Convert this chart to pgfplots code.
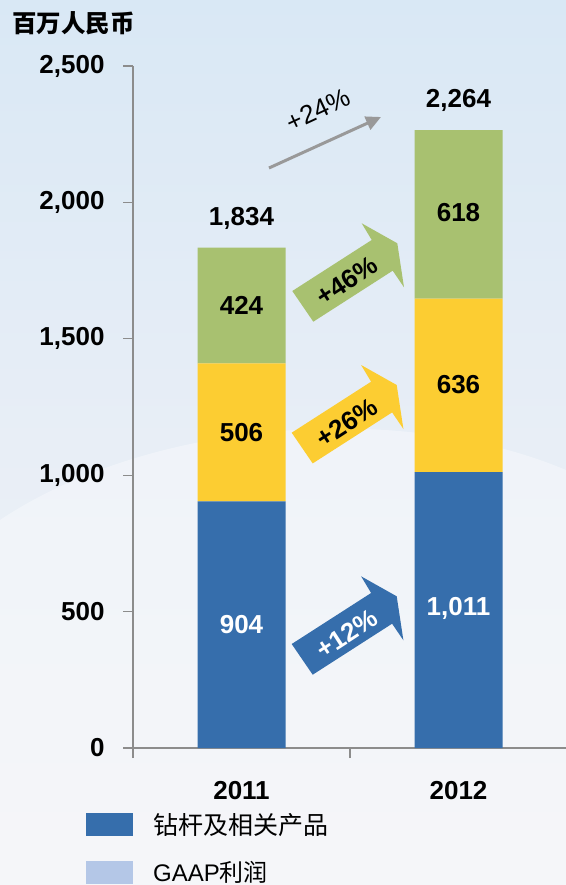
\documentclass[border=0pt]{standalone}
\usepackage{fontspec}
\setmainfont{Liberation Sans}
\newfontfamily\cjk{Noto Sans CJK SC}
\usepackage{pgfplots}
\pgfplotsset{compat=1.18}
\usetikzlibrary{arrows.meta}
\definecolor{cblue}{HTML}{366EAC}
\definecolor{cyellow}{HTML}{FCCD32}
\definecolor{cgreen}{HTML}{A8C170}
\definecolor{clight}{HTML}{B4C7E7}
\definecolor{caxis}{HTML}{8C8C8C}
\definecolor{carrow}{HTML}{999999}
\definecolor{bgtop}{HTML}{D9E8F5}
\definecolor{bgmid}{HTML}{E8EEF6}
\definecolor{bgbot}{HTML}{F1F2F7}
\newcommand\bigf{\fontsize{26bp}{30bp}\selectfont}
\begin{document}
\begin{tikzpicture}[x=1bp,y=-1bp]
\useasboundingbox (0,0) rectangle (566,885);
\shade[top color=bgtop, bottom color=bgbot, middle color=bgmid] (0,0) rectangle (566,885);
\fill[white, opacity=0.35] (0,520) .. controls (150,420) and (400,400) .. (566,470) -- (566,885) -- (0,885) -- cycle;
\begin{axis}[at={(133bp,-748bp)}, anchor=south west, scale only axis,
  width=434bp, height=682bp,
  xmin=-0.5, xmax=1.5, ymin=0, ymax=2500,
  ybar stacked, bar width=88bp,
  axis lines*=left, axis line style={caxis, line width=1.1bp, -},
  tick align=outside, major tick length=10bp,
  tick style={caxis, line width=1.1bp},
  ytick={0,500,...,2500},
  /pgf/number format/assume math mode=true,
  /pgf/number format/1000 sep={,},
  yticklabel style={font=\bigf\bfseries, xshift=-15bp},
  xtick={-0.5,0.5}, xticklabels={},
  extra x ticks={0,1}, extra x tick labels={2011,2012},
  extra x tick style={major tick length=0pt, xticklabel style={font=\bigf\bfseries, yshift=-30bp}},
  clip=false,
]
\addplot[fill=cblue, draw=none] coordinates {(0,904) (1,1011)};
\addplot[fill=cyellow, draw=none] coordinates {(0,506) (1,636)};
\addplot[fill=cgreen, draw=none] coordinates {(0,424) (1,618)};
\coordinate (a1) at (axis cs:0,452);
\coordinate (a2) at (axis cs:0,1157);
\coordinate (a3) at (axis cs:0,1622);
\coordinate (a4) at (axis cs:0,1943);
\coordinate (b1) at (axis cs:1,513);
\coordinate (b2) at (axis cs:1,1331);
\coordinate (b3) at (axis cs:1,1962);
\coordinate (b4) at (axis cs:1,2372);
\end{axis}
\node[font=\bigf\bfseries, text=white] at (a1) {904};
\node[font=\bigf\bfseries] at (a2) {506};
\node[font=\bigf\bfseries] at (a3) {424};
\node[font=\bigf\bfseries] at (a4) {1,834};
\node[font=\bigf\bfseries, text=white] at (b1) {1,011};
\node[font=\bigf\bfseries] at (b2) {636};
\node[font=\bigf\bfseries] at (b3) {618};
\node[font=\bigf\bfseries] at (b4) {2,264};
% block arrows
\begin{scope}[shift={(292.3,291)}]
\fill[cgreen] (21,30.7) -- (0,0) -- (79.4,-51) -- (69.4,-67.7) -- (105,-47.7) -- (111.7,-3.7) -- (100.4,-20.3) -- cycle;
\node[rotate=33, font=\bigf\bfseries] at (55,-10) {+46\%};
\end{scope}
\begin{scope}[shift={(291.7,432.7)}]
\fill[cyellow] (21,30.7) -- (0,0) -- (79.4,-51) -- (69.4,-67.7) -- (105,-47.7) -- (111.7,-3.7) -- (100.4,-20.3) -- cycle;
\node[rotate=33, font=\bigf\bfseries] at (55,-10) {+26\%};
\end{scope}
\begin{scope}[shift={(291.7,644)}]
\fill[cblue] (21,30.7) -- (0,0) -- (79.4,-51) -- (69.4,-67.7) -- (105,-47.7) -- (111.7,-3.7) -- (100.4,-20.3) -- cycle;
\node[rotate=33, font=\bigf\bfseries, text=white] at (55,-10) {+12\%};
\end{scope}
% gray arrow
\draw[carrow, line width=3bp, -{Triangle[length=15bp,width=14bp]}] (269,168) -- (381,117);
\node[rotate=25, font=\bigf] at (318,110) {+24\%};
% title
\node[anchor=west, inner sep=0pt, font=\cjk\bfseries\fontsize{24.5bp}{28bp}\selectfont] at (12,23) {百万人民币};
% legend
\fill[cblue] (86,813) rectangle (133,836);
\fill[clight] (86,861) rectangle (133,884);
\node[anchor=west, inner sep=0pt, font=\cjk\fontsize{25bp}{30bp}\selectfont] at (153,825) {钻杆及相关产品};
\node[anchor=west, inner sep=0pt, font=\fontsize{24bp}{28bp}\selectfont] at (153,872) {GAAP{\cjk 利润}};
\end{tikzpicture}
\end{document}
